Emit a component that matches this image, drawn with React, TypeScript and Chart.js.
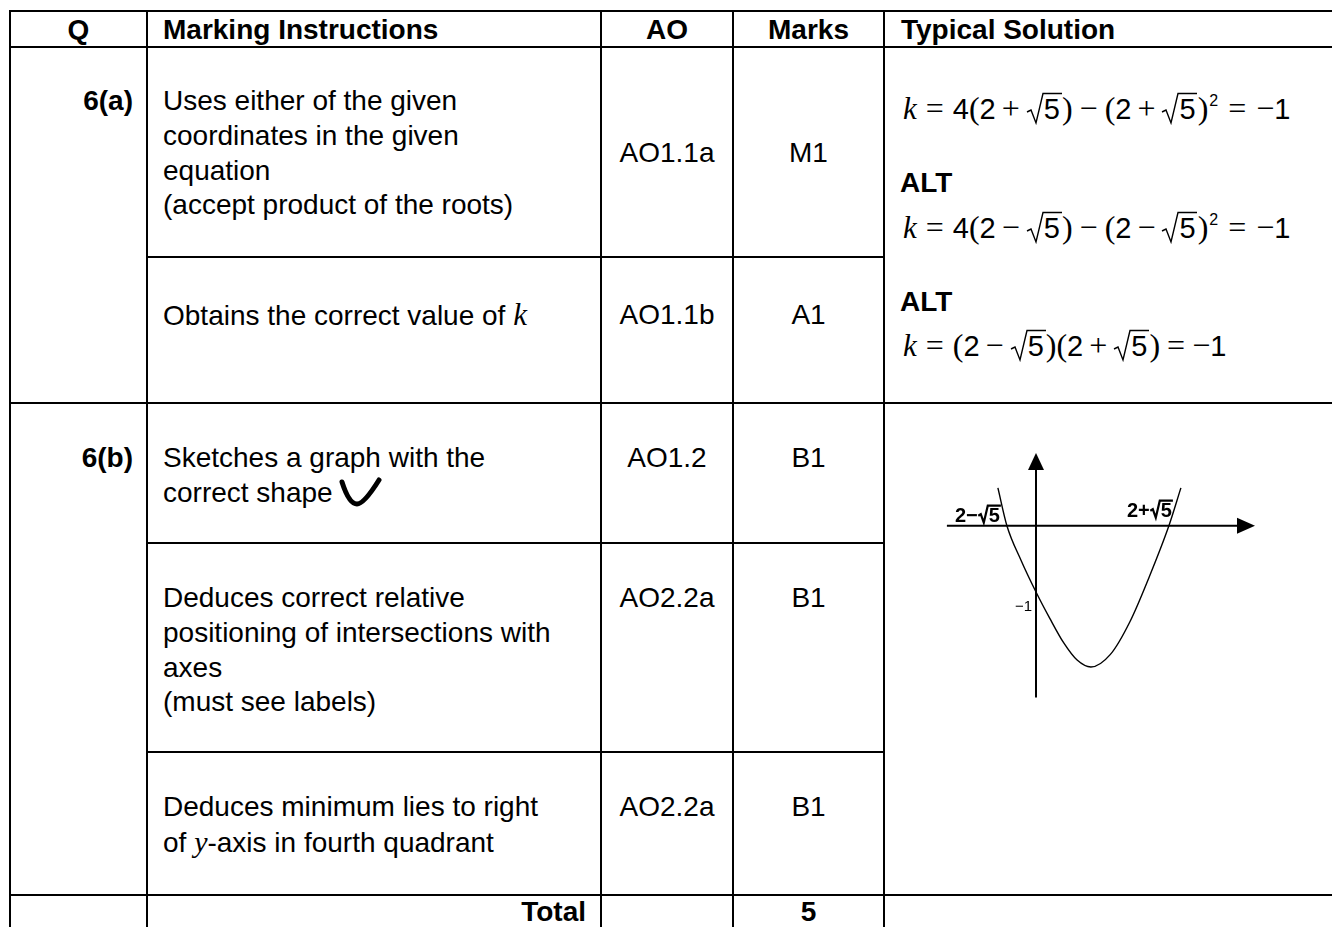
import React, { useEffect, useRef } from 'react';
import { Chart, registerables } from 'chart.js';

Chart.register(...registerables);

// ---- table text data ----
const headers = ['Q', 'Marking Instructions', 'AO', 'Marks', 'Typical Solution'];
const questions = ['6(a)', '6(b)'];
const aoCodes = ['AO1.1a', 'AO1.1b', 'AO1.2', 'AO2.2a', 'AO2.2a'];
const marks = ['M1', 'A1', 'B1', 'B1', 'B1'];
const totalLabel = 'Total';
const totalMarks = 5;

// ---- sketch data (sketch units) ----
const curveX = [-1.27, -0.97, -0.5, 0, 0.46, 0.92, 1.37, 1.83, 2.48, 3.13, 3.78, 4.43, 4.83];
const curveY = [1.26, 0, -1.15, -2.21, -3.09, -3.9, -4.48, -4.71, -4.29, -3.2, -1.69, 0, 1.26];
const xAxisSpan = [-2.97, 7.3];
const yAxisSpan = [-5.73, 2.42];
const rootValues = [-0.97, 4.43];
const rootSigns = ['−', '+'];
const interceptValue = -2.21;
const interceptLabel = '−1';
const viewX = [-3.2, 7.633];
const viewY = [-5.977, 2.69];

const W = 1332;
const H = 927;
const FONT = '"Liberation Sans", Arial, Helvetica, sans-serif';
const SERIF = '"Liberation Serif", "Times New Roman", serif';

function T(props: { x: number; y: number; align?: 'left' | 'center' | 'right'; bold?: boolean; children: any }) {
  const { x, y, align = 'left', bold, children } = props;
  const style: any = {
    position: 'absolute',
    top: y - 16,
    lineHeight: '32px',
    fontSize: 28,
    fontFamily: FONT,
    fontWeight: bold ? 'bold' : 'normal',
    whiteSpace: 'nowrap',
    color: '#000',
  };
  if (align === 'left') style.left = x;
  else if (align === 'center') {
    style.left = x;
    style.transform = 'translateX(-50%)';
  } else style.right = W - x;
  return <div style={style}>{children}</div>;
}

function HLine({ y, x1, x2 }: { y: number; x1: number; x2: number }) {
  return <div style={{ position: 'absolute', left: x1 - 1, top: y - 1, width: x2 - x1 + 2, height: 2, background: '#000' }} />;
}
function VLine({ x, y1, y2 }: { x: number; y1: number; y2: number }) {
  return <div style={{ position: 'absolute', left: x - 1, top: y1 - 1, width: 2, height: y2 - y1 + 2, background: '#000' }} />;
}

const Op = ({ c, m = 6 }: { c: string; m?: number }) => (
  <span style={{ fontFamily: SERIF, fontSize: 32, margin: `0 ${m}px` }}>{c}</span>
);
const P = ({ c }: { c: string }) => <span style={{ fontFamily: SERIF, fontSize: 32 }}>{c}</span>;
const K = () => <span style={{ fontFamily: SERIF, fontStyle: 'italic', fontSize: 31 }}>k</span>;
const Rad = ({ v }: { v: string }) => (
  <span style={{ position: 'relative', display: 'inline-block', paddingLeft: 18, paddingRight: 2 }}>
    <svg width={36} height={32} style={{ position: 'absolute', left: 0, top: 0, overflow: 'visible' }}>
      <path d="M1 19 L5 17 L10 30 L17 0.5 L36 0.5" stroke="#000" strokeWidth={1.4} fill="none" />
    </svg>
    {v}
  </span>
);
const Sq = () => <span style={{ position: 'relative', top: -13, fontSize: 16, marginLeft: 1 }}>2</span>;
const Neg1 = () => (
  <>
    <span style={{ fontFamily: SERIF, fontSize: 32 }}>−</span>1
  </>
);

function Eq1({ s }: { s: string }) {
  return (
    <span style={{ fontSize: 29 }}>
      <K />
      <Op c="=" m={9} />4<P c="(" />2<Op c={s} />
      <Rad v="5" />
      <P c=")" />
      <Op c="−" m={7} />
      <P c="(" />2<Op c={s} />
      <Rad v="5" />
      <P c=")" />
      <Sq />
      <Op c="=" m={10} />
      <Neg1 />
    </span>
  );
}
function Eq3() {
  return (
    <span style={{ fontSize: 29 }}>
      <K />
      <Op c="=" m={9} />
      <P c="(" />2<Op c="−" />
      <Rad v="5" />
      <P c=")" />
      <P c="(" />2<Op c="+" />
      <Rad v="5" />
      <P c=")" />
      <Op c="=" m={7} />
      <Neg1 />
    </span>
  );
}

function Sketch() {
  const ref = useRef<HTMLCanvasElement | null>(null);
  useEffect(() => {
    const canvas = ref.current;
    if (!canvas) return;
    const pts = curveX.map((x, i) => ({ x, y: curveY[i] }));

    const drawRootLabel = (ctx: CanvasRenderingContext2D, sign: string, right: number, base: number) => {
      ctx.font = 'bold 20px "Liberation Sans", Arial, sans-serif';
      ctx.fillStyle = '#000';
      ctx.textBaseline = 'alphabetic';
      ctx.textAlign = 'left';
      const w2 = ctx.measureText('2' + sign).width;
      const w5 = ctx.measureText('5').width;
      const radW = 11;
      const total = w2 + radW + w5 + 1;
      let x = right - total;
      ctx.fillText('2' + sign, x, base);
      x += w2;
      ctx.strokeStyle = '#000';
      ctx.lineWidth = 2.2;
      ctx.beginPath();
      ctx.moveTo(x + 0.5, base - 6);
      ctx.lineTo(x + 3, base - 7.5);
      ctx.lineTo(x + 6, base + 1);
      ctx.lineTo(x + 10, base - 16);
      ctx.lineTo(x + radW + w5 + 1, base - 16);
      ctx.stroke();
      ctx.fillText('5', x + radW, base);
    };

    const axesPlugin = {
      id: 'sketchAxes',
      beforeDatasetsDraw(chart: any) {
        const { ctx, scales } = chart;
        const sx = scales.x;
        const sy = scales.y;
        const x0 = sx.getPixelForValue(0);
        const y0 = sy.getPixelForValue(0);
        const xl = sx.getPixelForValue(xAxisSpan[0]);
        const xr = sx.getPixelForValue(xAxisSpan[1]);
        const yb = sy.getPixelForValue(yAxisSpan[0]);
        const yt = sy.getPixelForValue(yAxisSpan[1]);
        ctx.save();
        ctx.strokeStyle = '#000';
        ctx.fillStyle = '#000';
        ctx.lineWidth = 2;
        ctx.beginPath();
        ctx.moveTo(xl, y0);
        ctx.lineTo(xr - 12, y0);
        ctx.moveTo(x0, yb);
        ctx.lineTo(x0, yt + 12);
        ctx.stroke();
        ctx.beginPath();
        ctx.moveTo(xr, y0);
        ctx.lineTo(xr - 18, y0 - 8);
        ctx.lineTo(xr - 18, y0 + 8);
        ctx.closePath();
        ctx.fill();
        ctx.beginPath();
        ctx.moveTo(x0, yt);
        ctx.lineTo(x0 - 8, yt + 17);
        ctx.lineTo(x0 + 8, yt + 17);
        ctx.closePath();
        ctx.fill();
        ctx.restore();
      },
      afterDatasetsDraw(chart: any) {
        const { ctx, scales } = chart;
        const sx = scales.x;
        const sy = scales.y;
        const y0 = sy.getPixelForValue(0);
        const x0 = sx.getPixelForValue(0);
        ctx.save();
        drawRootLabel(ctx, rootSigns[0], sx.getPixelForValue(rootValues[0]) - 6, y0 - 4);
        drawRootLabel(ctx, rootSigns[1], sx.getPixelForValue(rootValues[1]) + 4, y0 - 9);
        ctx.font = '15px "Liberation Sans", Arial, sans-serif';
        ctx.textAlign = 'right';
        ctx.textBaseline = 'middle';
        ctx.fillStyle = '#000';
        ctx.fillText(interceptLabel, x0 - 4, sy.getPixelForValue(interceptValue) + 15);
        ctx.restore();
      },
    };

    const chart = new Chart(canvas, {
      type: 'scatter',
      data: {
        datasets: [
          {
            data: pts,
            showLine: true,
            borderColor: '#000',
            borderWidth: 1.4,
            pointRadius: 0,
            cubicInterpolationMode: 'monotone',
            fill: false,
          },
        ],
      },
      options: {
        responsive: false,
        animation: false,
        devicePixelRatio: 1,
        layout: { padding: 0 },
        plugins: { legend: { display: false }, tooltip: { enabled: false } },
        events: [],
        scales: {
          x: { type: 'linear', min: viewX[0], max: viewX[1], display: false },
          y: { type: 'linear', min: viewY[0], max: viewY[1], display: false },
        },
      },
      plugins: [axesPlugin],
    } as any);
    return () => chart.destroy();
  }, []);
  return (
    <canvas
      ref={ref}
      width={325}
      height={260}
      style={{ position: 'absolute', left: 940, top: 445, width: 325, height: 260 }}
    />
  );
}

export default function App() {
  useEffect(() => {
    document.body.style.margin = '0';
    document.body.style.overflow = 'hidden';
  }, []);
  const colX = [10, 147, 601, 733, 884];
  return (
    <div style={{ position: 'absolute', left: 0, top: 0, width: W, height: H, overflow: 'hidden', background: '#fff' }}>
      {/* grid */}
      <HLine y={11} x1={10} x2={W + 4} />
      <HLine y={47} x1={10} x2={W + 4} />
      <HLine y={403} x1={10} x2={W + 4} />
      <HLine y={895} x1={10} x2={W + 4} />
      <HLine y={257} x1={147} x2={884} />
      <HLine y={543} x1={147} x2={884} />
      <HLine y={752} x1={147} x2={884} />
      {colX.map((x) => (
        <VLine key={x} x={x} y1={11} y2={H + 4} />
      ))}

      {/* header */}
      <T x={78.5} y={30} align="center" bold>{headers[0]}</T>
      <T x={163} y={30} bold>{headers[1]}</T>
      <T x={667} y={30} align="center" bold>{headers[2]}</T>
      <T x={808.5} y={30} align="center" bold>{headers[3]}</T>
      <T x={901} y={30} bold>{headers[4]}</T>

      {/* 6(a) */}
      <T x={133} y={101} align="right" bold>{questions[0]}</T>
      <T x={163} y={101}>Uses either of the given</T>
      <T x={163} y={136}>coordinates in the given</T>
      <T x={163} y={171}>equation</T>
      <T x={163} y={205}>(accept product of the roots)</T>
      <T x={667} y={153} align="center">{aoCodes[0]}</T>
      <T x={808.5} y={153} align="center">{marks[0]}</T>
      <T x={163} y={315}>
        Obtains the correct value of <K />
      </T>
      <T x={667} y={315} align="center">{aoCodes[1]}</T>
      <T x={808.5} y={315} align="center">{marks[1]}</T>

      {/* typical solution */}
      <T x={903} y={108}><Eq1 s="+" /></T>
      <T x={900} y={183} bold>ALT</T>
      <T x={903} y={227}><Eq1 s="−" /></T>
      <T x={900} y={302} bold>ALT</T>
      <T x={903} y={345}><Eq3 /></T>

      {/* 6(b) */}
      <T x={133} y={458} align="right" bold>{questions[1]}</T>
      <T x={163} y={458}>Sketches a graph with the</T>
      <T x={163} y={493}>correct shape</T>
      <svg width={50} height={40} style={{ position: 'absolute', left: 337, top: 474 }}>
        <path d="M5 8 Q12 30 20 30 Q27 30 42 6" stroke="#000" strokeWidth={5} fill="none" strokeLinecap="round" />
      </svg>
      <T x={667} y={458} align="center">{aoCodes[2]}</T>
      <T x={808.5} y={458} align="center">{marks[2]}</T>

      <T x={163} y={598}>Deduces correct relative</T>
      <T x={163} y={633}>positioning of intersections with</T>
      <T x={163} y={668}>axes</T>
      <T x={163} y={702}>(must see labels)</T>
      <T x={667} y={598} align="center">{aoCodes[3]}</T>
      <T x={808.5} y={598} align="center">{marks[3]}</T>

      <T x={163} y={807}>Deduces minimum lies to right</T>
      <T x={163} y={842}>
        of <span style={{ fontFamily: SERIF, fontStyle: 'italic', fontSize: 30 }}>y</span>-axis in fourth quadrant
      </T>
      <T x={667} y={807} align="center">{aoCodes[4]}</T>
      <T x={808.5} y={807} align="center">{marks[4]}</T>

      {/* total */}
      <T x={586} y={912} align="right" bold>{totalLabel}</T>
      <T x={808.5} y={912} align="center" bold>{String(totalMarks)}</T>

      <Sketch />
    </div>
  );
}
